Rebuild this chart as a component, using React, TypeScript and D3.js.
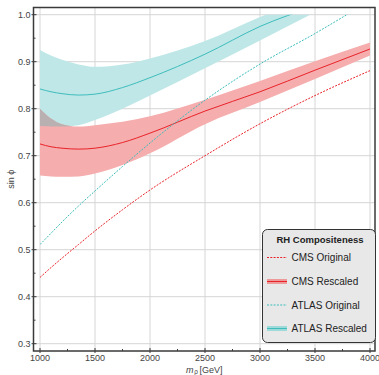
import React from "react";
import * as d3 from "d3";

// Resonance mass grid (GeV) shared by all series
const massPoints = [1000, 1100, 1200, 1350, 1500, 1750, 2000, 2500, 3000, 3500, 4000];

// sin(phi) limits
const cmsOriginal = [0.441, 0.462, 0.482, 0.511, 0.540, 0.585, 0.627, 0.700, 0.768, 0.828, 0.881];
const atlasOriginal = [0.511, 0.535, 0.559, 0.593, 0.625, 0.677, 0.727, 0.818, 0.895, 0.960, 1.03];

const cmsRescaled = [0.725, 0.719, 0.716, 0.714, 0.716, 0.728, 0.748, 0.795, 0.836, 0.882, 0.927];
const cmsRescaledHi = [0.800, 0.779, 0.767, 0.762, 0.765, 0.772, 0.784, 0.819, 0.859, 0.901, 0.941];
const cmsRescaledLo = [0.658, 0.656, 0.655, 0.656, 0.662, 0.680, 0.705, 0.767, 0.814, 0.863, 0.913];

const atlasRescaled = [0.842, 0.836, 0.832, 0.829, 0.831, 0.845, 0.866, 0.916, 0.975, 1.02, 1.07];
const atlasRescaledHi = [0.925, 0.913, 0.904, 0.894, 0.889, 0.894, 0.907, 0.944, 0.995, 1.04, 1.09];
const atlasRescaledLo = [0.763, 0.762, 0.762, 0.765, 0.776, 0.800, 0.828, 0.886, 0.945, 1.005, 1.06];

const massTicks = [1000, 1500, 2000, 2500, 3000, 3500, 4000];
const massMinorTicks = d3.range(1000, 4001, 250);
const sinTicks = [0.3, 0.4, 0.5, 0.6, 0.7, 0.8, 0.9, 1.0];
const sinMinorTicks = d3.range(0.3, 1.001, 0.05);

const legendTitle = "RH Compositeness";
const legendLabels = ["CMS Original", "CMS Rescaled", "ATLAS Original", "ATLAS Rescaled"];

const W = 379;
const H = 375;
const RED = "#e8232a";
const RED_BAND = "#f5adad";
const CYAN = "#3fbcbc";
const CYAN_BAND = "#bfe7e7";
const OVERLAP = "#b9b1b1";
const FONT = "'Liberation Sans', Arial, sans-serif";

export default function App() {
  const x = d3.scaleLinear().domain([1000, 4000]).range([40, 370]);
  const y = d3.scaleLinear().domain([0.3, 1.0]).range([343.7, 14.7]);
  const frame = { left: 33.5, right: 375, top: 7.5, bottom: 351 };

  const line = (vals: number[]) =>
    d3
      .line<number>()
      .x((_, i) => x(massPoints[i]))
      .y((v) => y(v))
      .curve(d3.curveMonotoneX)(vals) as string;

  const band = (lo: number[], hi: number[]) =>
    d3
      .area<number>()
      .x((_, i) => x(massPoints[i]))
      .y0((_, i) => y(lo[i]))
      .y1((_, i) => y(hi[i]))
      .curve(d3.curveMonotoneX)(massPoints) as string;

  const cmsBand = band(cmsRescaledLo, cmsRescaledHi);
  const atlasBand = band(atlasRescaledLo, atlasRescaledHi);

  const lg = { x: 262.5, y: 229.5, w: 113, h: 113 };
  const rowY = [257.5, 281.5, 305, 328.5];

  return (
    <svg
      width={W}
      height={H}
      style={{ position: "absolute", left: 0, top: 0, background: "#fff" }}
      fontFamily={FONT}
    >
      <defs>
        <clipPath id="plotClip">
          <rect x={x(1000)} y={y(1.0)} width={x(4000) - x(1000)} height={y(0.3) - y(1.0) + 8} />
        </clipPath>
        <clipPath id="atlasBandClip">
          <path d={atlasBand} />
        </clipPath>
      </defs>

      {/* grid */}
      <g stroke="#d6d6d6" strokeWidth={1}>
        {massTicks.map((t) => (
          <line key={"gx" + t} x1={x(t)} x2={x(t)} y1={frame.top} y2={frame.bottom} />
        ))}
        {sinTicks.map((t) => (
          <line key={"gy" + t} x1={frame.left} x2={frame.right} y1={y(t)} y2={y(t)} />
        ))}
      </g>

      {/* bands and curves */}
      <g clipPath="url(#plotClip)">
        <path d={atlasBand} fill={CYAN_BAND} />
        <path d={cmsBand} fill={RED_BAND} />
        <path d={cmsBand} fill={OVERLAP} clipPath="url(#atlasBandClip)" />
        <path d={line(atlasRescaled)} fill="none" stroke={CYAN} strokeWidth={1} />
        <path d={line(cmsRescaled)} fill="none" stroke={RED} strokeWidth={1} />
        <path d={line(atlasOriginal)} fill="none" stroke={CYAN} strokeWidth={1} strokeDasharray="2,1.3" />
        <path d={line(cmsOriginal)} fill="none" stroke={RED} strokeWidth={1} strokeDasharray="2,1.3" />
      </g>

      {/* frame */}
      <rect
        x={frame.left}
        y={frame.top}
        width={frame.right - frame.left}
        height={frame.bottom - frame.top}
        fill="none"
        stroke="#3a3a3a"
        strokeWidth={1.5}
      />

      {/* ticks */}
      <g stroke="#3a3a3a" strokeWidth={1}>
        {massMinorTicks.map((t) => (
          <line
            key={"tx" + t}
            x1={x(t)}
            x2={x(t)}
            y1={frame.bottom - (t % 500 === 0 ? 3 : 2)}
            y2={frame.bottom + (t % 500 === 0 ? 2 : 0)}
          />
        ))}
        {sinMinorTicks.map((t, i) => (
          <line
            key={"ty" + i}
            x1={frame.left - (i % 2 === 0 ? 2 : 0)}
            x2={frame.left + (i % 2 === 0 ? 3 : 2)}
            y1={y(t)}
            y2={y(t)}
          />
        ))}
      </g>

      {/* tick labels */}
      <g fontSize={9} fill="#444">
        {massTicks.map((t) => (
          <text key={"lx" + t} x={x(t)} y={frame.bottom + 9.8} textAnchor="middle">
            {t}
          </text>
        ))}
        {sinTicks.map((t) => (
          <text key={"ly" + t} x={frame.left - 3} y={y(t) + 3.2} textAnchor="end">
            {t.toFixed(1)}
          </text>
        ))}
      </g>

      {/* axis titles */}
      <g fill="#444">
        <text x={186} y={372.5} fontSize={9} fontStyle="italic">m</text>
        <text x={194.2} y={374.3} fontSize={6.5}>ρ</text>
        <text x={199.5} y={372.5} fontSize={9}>[GeV]</text>
      </g>
      <text
        transform={`translate(13.5, ${(frame.top + frame.bottom) / 2}) rotate(-90)`}
        fontSize={9}
        fill="#444"
        textAnchor="middle"
      >
        sin ϕ
      </text>

      {/* legend */}
      <rect x={lg.x} y={lg.y} width={lg.w} height={lg.h} rx={5} fill="#e8e8e8" stroke="#333" strokeWidth={1} />
      <text x={lg.x + lg.w / 2 + 1} y={243} fontSize={9.5} fontWeight="bold" textAnchor="middle" fill="#222">
        {legendTitle}
      </text>
      {legendLabels.map((label, i) => {
        const isRed = i < 2;
        const color = isRed ? RED : CYAN;
        const ry = rowY[i];
        const rescaled = i % 2 === 1;
        return (
          <g key={label}>
            {rescaled && (
              <rect x={267} y={ry - 2.5} width={20} height={5} fill={isRed ? "#ec9a9a" : "#9fdada"} />
            )}
            <line
              x1={267}
              x2={287}
              y1={ry}
              y2={ry}
              stroke={color}
              strokeWidth={1}
              strokeDasharray={rescaled ? undefined : "2,1.3"}
            />
            <text x={291.5} y={ry + 3.5} fontSize={10} fill="#222">
              {label}
            </text>
          </g>
        );
      })}
    </svg>
  );
}
